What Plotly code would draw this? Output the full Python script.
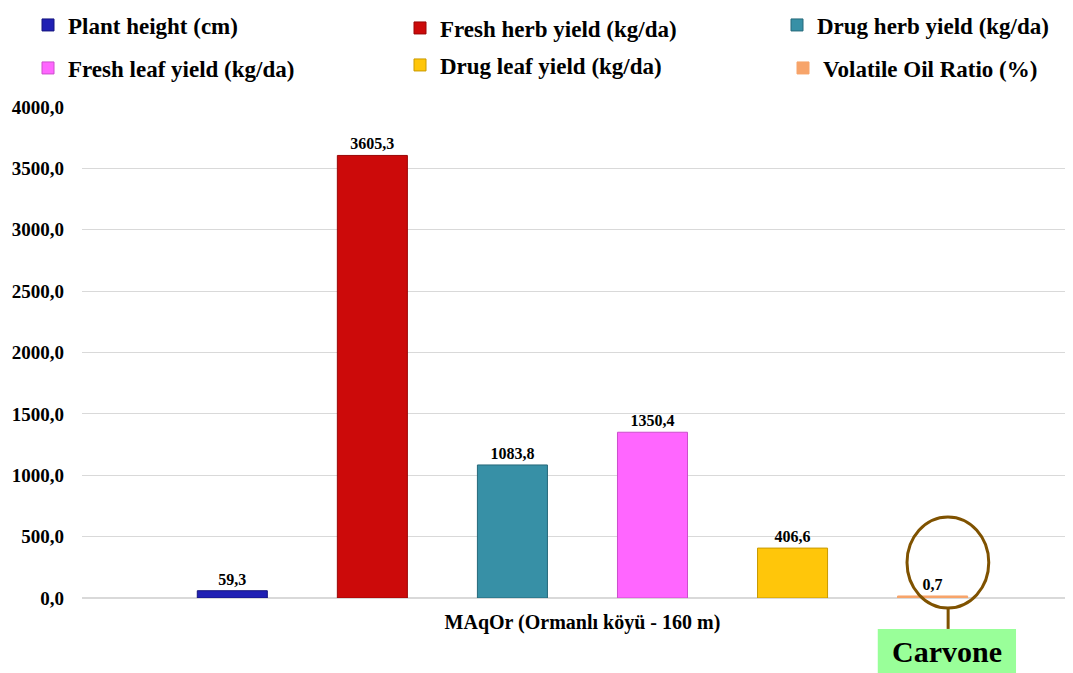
import plotly.graph_objects as go

# Data
category = ["MAqOr (Ormanlı köyü - 160 m)"]
series_names = [
    "Plant height (cm)",
    "Fresh herb yield (kg/da)",
    "Drug herb yield (kg/da)",
    "Fresh leaf yield (kg/da)",
    "Drug leaf yield (kg/da)",
    "Volatile Oil Ratio (%)",
]
series_values = [59.3, 3605.3, 1083.8, 1350.4, 406.6, 0.7]
series_colors = ["#2020B4", "#CC0A0A", "#3790A6", "#FF66FF", "#FFC60A", "#F7A46A"]
series_edges = ["#14147E", "#9A0606", "#26697A", "#CC4FCC", "#C99A00", "#F7A46A"]
y_ticks = [0, 500, 1000, 1500, 2000, 2500, 3000, 3500, 4000]

font_name = "Liberation Serif"

# the page body adds an 8px margin, so layout is drawn 8px up/left of target pixels
off = 8
W, H = 1073 - off, 673 - off
plot_left, plot_w, plot_bottom, plot_h = 82 - off, 991, 598 - off, 491

# legend slots (target pixel of text start, text middle) - 3 columns x 2 rows
legend_slots = [(68, 25), (440, 28), (817, 25), (68, 68), (440, 65), (823, 68)]

fig = go.Figure()
for i, (name, val, col, edge) in enumerate(zip(series_names, series_values, series_colors, series_edges)):
    # the oil ratio (%) is tiny on the kg scale; its own hidden axis keeps it visible as a thin line
    fig.add_trace(go.Bar(
        x=category,
        y=[val],
        name=name,
        yaxis="y2" if i == 5 else "y",
        alignmentgroup="all", offsetgroup=str(i),
        marker=dict(color=col, line=dict(color=edge, width=1)),
        texttemplate="%{y:.1f}",
        textposition="outside",
        textfont=dict(family=font_name, size=16, color="black", weight="bold"),
        cliponaxis=False,
        legend=f"legend{i + 2}",
    ))

# one single-entry legend per slot
legends = {}
for i, (tx, ty) in enumerate(legend_slots):
    legends[f"legend{i + 2}"] = dict(
        orientation="h", xref="paper", yref="paper",
        x=(tx - off - 40 - plot_left) / plot_w, xanchor="left",
        y=(plot_bottom - (ty - off)) / plot_h, yanchor="middle",
        font=dict(family=font_name, size=23, color="black", weight="bold"),
        bgcolor="rgba(0,0,0,0)", itemwidth=30,
    )

# Carvone callout
fig.add_shape(type="circle", xref="paper", yref="paper",
              x0=0.8325, x1=0.915, y0=-0.0204, y1=0.165,
              line=dict(color="#7F5200", width=3))
fig.add_shape(type="line", xref="paper", yref="paper",
              x0=0.874, x1=0.874, y0=-0.0204, y1=-0.063,
              line=dict(color="#7F5200", width=3))
fig.add_shape(type="rect", xref="paper", yref="paper",
              x0=0.803, x1=0.9425, y0=-0.063, y1=-0.153,
              fillcolor="#99FF99", line=dict(width=0))
fig.add_annotation(text="<b>Carvone</b>", xref="paper", yref="paper",
                   x=0.873, y=-0.108, xanchor="center", yanchor="middle",
                   showarrow=False,
                   font=dict(family=font_name, size=30, color="black"))

fig.update_layout(
    width=W, height=H,
    margin=dict(l=plot_left, r=W - plot_left - plot_w, t=plot_bottom - plot_h,
                b=H - plot_bottom, autoexpand=False),
    paper_bgcolor="white", plot_bgcolor="white",
    separators=",.",
    barmode="group", bargap=0.152, bargroupgap=0.5,
    font=dict(family=font_name, color="black"),
    yaxis2=dict(overlaying="y", range=[0, 170], visible=False),
    **legends,
)

fig.update_xaxes(
    range=[-0.505, 0.495],
    showgrid=False, showline=False, ticks="", ticklabelstandoff=10,
    tickfont=dict(family=font_name, size=20, weight="bold"),
)
fig.update_layout(yaxis=dict(
    range=[0, 4000], tickvals=y_ticks, tickformat=".1f",
    showgrid=True, gridcolor="#D9D9D9", gridwidth=1,
    zeroline=True, zerolinecolor="#D9D9D9",
    showline=False, ticks="", ticklabelstandoff=17,
    tickfont=dict(family=font_name, size=19, weight="bold"),
))

fig.write_html("out.html")
